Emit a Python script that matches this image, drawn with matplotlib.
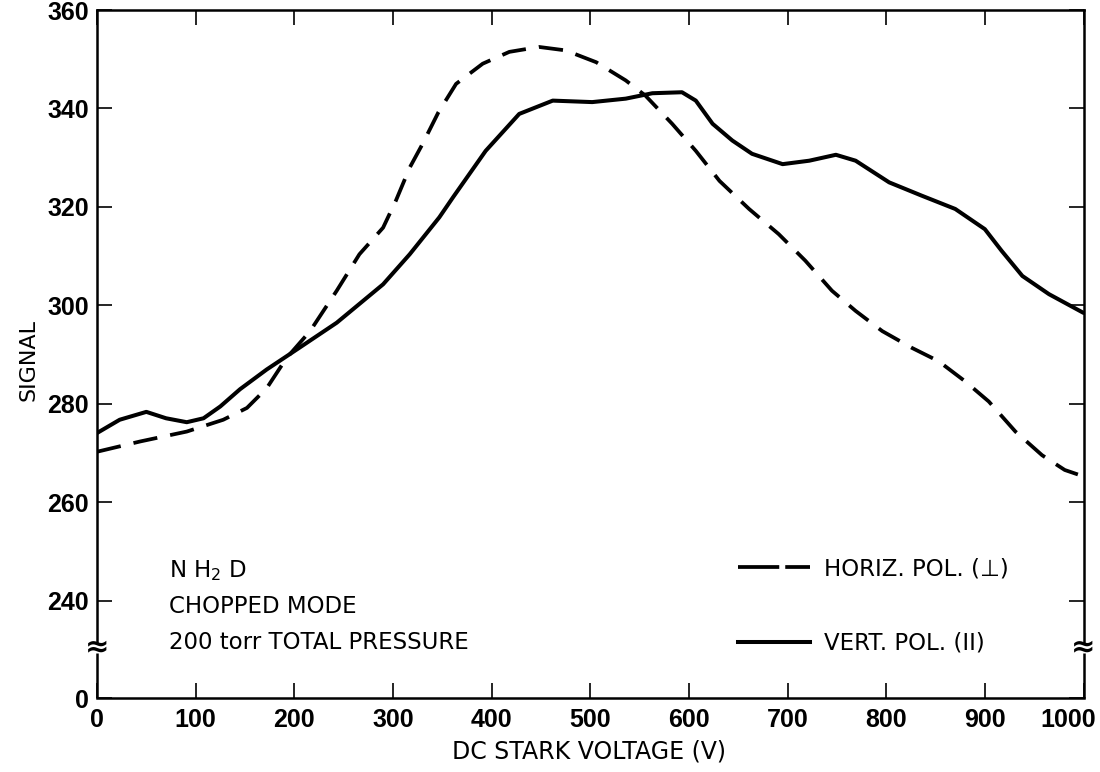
import numpy as np
import matplotlib
matplotlib.use("Agg")
import matplotlib.pyplot as plt
from matplotlib.lines import Line2D
from matplotlib.transforms import ScaledTranslation

# ---------------- data ----------------
horiz_v = [0, 44, 91, 128, 152, 172, 192, 216, 243, 266, 290, 303, 317, 330, 346,
           364, 391, 418, 448, 475, 506, 536, 556, 583, 607, 631, 661, 691, 718,
           745, 769, 796, 826, 853, 880, 904, 931, 958, 981, 1000]
horiz_s = [270.3, 272.4, 274.4, 276.8, 279.2, 283.2, 289.3, 294.8, 303.0, 310.4,
           315.8, 321.3, 328.0, 332.8, 339.2, 345.0, 349.1, 351.5, 352.5, 351.8,
           349.4, 345.7, 342.6, 336.9, 331.4, 325.3, 319.6, 314.5, 309.1, 303.0,
           298.9, 294.8, 291.4, 288.7, 284.6, 280.5, 274.4, 269.6, 266.6, 265.3]

vert_v = [0, 23, 50, 70, 91, 108, 125, 145, 172, 205, 243, 290, 317, 347, 361,
          394, 428, 462, 502, 536, 563, 593, 607, 624, 644, 664, 695, 722, 749,
          769, 803, 836, 870, 900, 917, 938, 965, 1000]
vert_s = [274.1, 276.8, 278.4, 277.1, 276.3, 277.1, 279.5, 283.0, 287.0, 291.4,
          296.5, 304.3, 310.4, 317.9, 322.0, 331.4, 338.9, 341.6, 341.3, 342.0,
          343.1, 343.3, 341.6, 336.9, 333.5, 330.8, 328.7, 329.4, 330.6, 329.4,
          325.0, 322.3, 319.6, 315.5, 311.1, 306.0, 302.3, 298.5]

x_ticks = [0, 100, 200, 300, 400, 500, 600, 700, 800, 900, 1000]
y_ticks = [0, 240, 260, 280, 300, 320, 340, 360]

label_horiz = "HORIZ. POL. (\u22a5)"
label_vert = "VERT. POL. (II)"
notes = ["N H$_2$ D", "CHOPPED MODE", "200 torr TOTAL PRESSURE"]

# ---------------- broken y scale ----------------
Z0 = 220.3          # display position of signal 0
BRK = 240.0


def fwd(v):
    v = np.asarray(v, dtype=float)
    return np.where(v >= BRK, v, Z0 + v * (BRK - Z0) / BRK)


def inv(p):
    p = np.asarray(p, dtype=float)
    return np.where(p >= BRK, p, (p - Z0) * BRK / (BRK - Z0))


plt.rcParams['font.family'] = ['DejaVu Sans']
plt.rcParams['mathtext.default'] = 'regular'

fig = plt.figure(figsize=(11, 7.72), dpi=100)
W, H = 1100, 772
ax = fig.add_axes([97 / W, 1 - 698 / H, (1083.5 - 97) / W, (698 - 10) / H])
ax.set_yscale('function', functions=(fwd, inv))
ax.set_xlim(0, 1000)
ax.set_ylim(0, 360)

ax.plot(horiz_v, horiz_s, color='black', lw=2.7, ls=(0, (6.5, 3.5)),
        dash_capstyle='butt')
ax.plot(vert_v, vert_s, color='black', lw=2.9, solid_capstyle='round')

tick_font = dict(family=['Liberation Sans', 'DejaVu Sans'], weight='bold', size=18)
ax.set_xticks(x_ticks)
ax.set_yticks(y_ticks)
ax.set_xticklabels([str(t) for t in x_ticks], fontdict=tick_font)
ax.set_yticklabels([str(t) for t in y_ticks], fontdict=tick_font)
ax.tick_params(direction='in', length=11, width=1.2, top=True, right=True,
               labeltop=False, labelright=False)
ax.tick_params(axis='x', pad=7)
ax.tick_params(axis='y', pad=6)
# last x label sits a little left, as in the original
last = ax.get_xticklabels()[-1]
last.set_transform(last.get_transform() + ScaledTranslation(-15 / 100, 0, fig.dpi_scale_trans))

for s in ax.spines.values():
    s.set_linewidth(1.8)

# spine break on left and right
gap_hi = float(inv(231.6))
gap_lo = float(inv(229.4))
ax.spines['left'].set_bounds(gap_hi, 360)
ax.spines['right'].set_bounds(gap_hi, 360)
ytr = ax.get_yaxis_transform()
for xs in (0, 1):
    ax.plot([xs, xs], [0, gap_lo], transform=ytr, color='black', lw=1.8,
            clip_on=False, solid_capstyle='butt')
    ax.text(xs, float(inv(230.5)), "\u2248", transform=ytr, ha='center',
            va='center', fontsize=21, fontweight='bold', clip_on=False)

ax.set_xlabel("DC STARK VOLTAGE (V)", fontsize=17, va='center')
ax.xaxis.set_label_coords(0.499, (698 - 752) / 688)
ax.set_ylabel("SIGNAL", fontsize=16, va='center')
ax.yaxis.set_label_coords((28 - 97) / 986.5, (698 - 360) / 688)

# notes
note_y = [577, 613, 649]
for txt, yy in zip(notes, note_y):
    fig.text(169 / W, 1 - yy / H, txt, fontsize=16.5, va='baseline', ha='left')

# legend
h1 = Line2D([], [], color='black', lw=2.7, ls=(0, (11, 1.6)), dash_capstyle='butt')
h2 = Line2D([], [], color='black', lw=2.9)
leg = ax.legend([h1, h2], [label_horiz, label_vert], loc='upper left',
                bbox_to_anchor=(738 / W, 1 - 557 / H), bbox_transform=fig.transFigure,
                frameon=False, fontsize=16.5, handlelength=3.15, handletextpad=0.6,
                labelspacing=2.25, borderpad=0, borderaxespad=0)

fig.savefig("out.png", dpi=100)
